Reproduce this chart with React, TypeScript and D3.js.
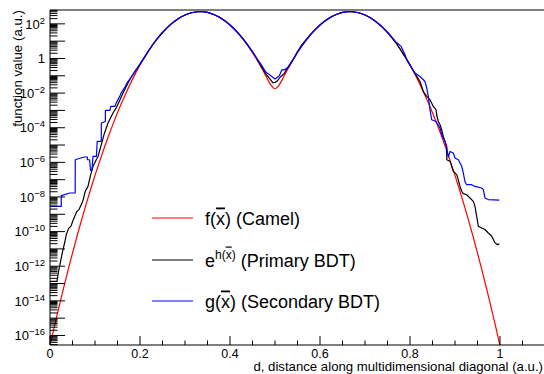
import React from 'react';
import * as d3 from 'd3';

// ---------------- data (log10 of function value) ----------------
const camelD = d3.range(0, 101).map((i) => i / 100);
const camelLog = [
  -16.6, -15.45, -14.35, -13.28, -12.24, -11.24, -10.27, -9.34, -8.44, -7.58,
  -6.75, -5.96, -5.2, -4.48, -3.79, -3.13, -2.51, -1.93, -1.38, -0.86,
  -0.38, 0.06, 0.47, 0.85, 1.19, 1.5, 1.77, 2.01, 2.21, 2.38,
  2.51, 2.61, 2.67, 2.7, 2.7, 2.66, 2.58, 2.47, 2.33, 2.15,
  1.93, 1.68, 1.4, 1.08, 0.73, 0.34, -0.08, -0.54, -1.03, -1.5,
  -1.75,
  -1.5, -1.03, -0.54, -0.08, 0.34, 0.73, 1.08, 1.4, 1.68, 1.93,
  2.15, 2.33, 2.47, 2.58, 2.66, 2.7, 2.7, 2.67, 2.61, 2.51,
  2.38, 2.21, 2.01, 1.77, 1.5, 1.19, 0.85, 0.47, 0.06, -0.38,
  -0.86, -1.38, -1.93, -2.51, -3.13, -3.79, -4.48, -5.2, -5.96, -6.75,
  -7.58, -8.44, -9.34, -10.27, -11.24, -12.24, -13.28, -14.35, -15.45, -16.6,
];

const primaryPts: [number, number][] = [
  [0, -12.87], [0.0156, -12.87], [0.0189, -12.31], [0.0222, -11.9], [0.0256, -11.44],
  [0.0289, -11.04], [0.0327, -10.63], [0.0362, -10.17], [0.0411, -9.83], [0.0467, -9.68],
  [0.0518, -9.31], [0.0593, -8.85], [0.0644, -8.73], [0.0696, -8.44], [0.0733, -8.21],
  [0.0784, -7.67], [0.0844, -7.39], [0.0904, -6.71], [0.0956, -6.23], [0.1029, -5.85],
  [0.1067, -5.66], [0.114, -4.98], [0.12, -4.4], [0.1289, -3.73], [0.14, -3.15],
  [0.1473, -2.85], [0.1556, -2.38], [0.1622, -2.0], [0.1733, -1.42],
  [0.18, -1.1], [0.19, -0.72], [0.2, -0.33], [0.21, 0.08], [0.22, 0.49], [0.23, 0.86],
  [0.24, 1.2], [0.25, 1.5], [0.26, 1.77], [0.27, 2.01], [0.28, 2.21], [0.29, 2.38],
  [0.3, 2.51], [0.31, 2.61], [0.32, 2.67], [0.33, 2.7], [0.34, 2.7], [0.35, 2.66],
  [0.36, 2.58], [0.37, 2.47], [0.38, 2.33], [0.39, 2.15], [0.4, 1.93], [0.41, 1.69],
  [0.42, 1.42], [0.43, 1.1], [0.44, 0.76], [0.45, 0.4], [0.46, -0.03], [0.47, -0.46],
  [0.48, -0.92], [0.49, -1.22], [0.495, -1.4], [0.5, -1.38], [0.505, -1.3], [0.51, -1.12],
  [0.52, -0.88], [0.53, -0.46], [0.54, -0.06], [0.55, 0.4], [0.56, 0.8], [0.57, 1.12],
  [0.58, 1.42], [0.59, 1.69], [0.6, 1.93], [0.61, 2.15], [0.62, 2.33], [0.63, 2.47],
  [0.64, 2.58], [0.65, 2.66], [0.66, 2.7], [0.67, 2.7], [0.68, 2.67], [0.69, 2.61],
  [0.7, 2.51], [0.71, 2.38], [0.72, 2.21], [0.73, 2.01], [0.74, 1.77], [0.75, 1.5],
  [0.76, 1.19], [0.77, 0.86], [0.78, 0.47], [0.79, 0.06], [0.8, -0.36], [0.81, -0.82],
  [0.8222, -1.33], [0.8296, -1.91], [0.8371, -2.19], [0.8444, -2.38], [0.8518, -2.77],
  [0.8578, -2.96], [0.8593, -3.25], [0.8629, -3.64], [0.8667, -3.83], [0.8704, -4.12],
  [0.874, -4.5], [0.8778, -4.79], [0.8816, -5.08], [0.8817, -5.85], [0.8889, -5.94],
  [0.8927, -6.23], [0.8962, -6.52], [0.9038, -6.71], [0.9073, -7.0], [0.9111, -7.39],
  [0.9149, -7.67], [0.9184, -7.81], [0.926, -7.87], [0.9333, -8.06], [0.9407, -8.25],
  [0.9444, -8.54], [0.9482, -9.12], [0.9518, -9.69], [0.9593, -9.79], [0.9667, -9.88],
  [0.974, -10.08], [0.9778, -10.17], [0.9816, -10.27], [0.9852, -10.46], [0.9889, -10.65],
  [0.994, -10.75], [0.9984, -10.71],
];

const secondaryPts: [number, number][] = [
  [0, -8.54], [0.025, -8.54], [0.0251, -7.92], [0.044, -7.77], [0.056, -7.77],
  [0.0561, -5.85], [0.0756, -5.69], [0.083, -5.69], [0.0831, -5.85], [0.088, -5.85],
  [0.09, -6.46], [0.093, -6.46], [0.0956, -5.66], [0.103, -5.66], [0.105, -4.79],
  [0.114, -4.79], [0.1141, -3.73], [0.123, -3.64], [0.1231, -3.0], [0.133, -3.0],
  [0.135, -2.77], [0.144, -2.77], [0.147, -2.58], [0.155, -2.19], [0.158, -2.0],
  [0.167, -1.62], [0.173, -1.33],
  [0.18, -1.1], [0.19, -0.7], [0.2, -0.33], [0.21, 0.08], [0.22, 0.48], [0.23, 0.86],
  [0.24, 1.2], [0.25, 1.5], [0.26, 1.77], [0.27, 2.01], [0.28, 2.21], [0.29, 2.38],
  [0.3, 2.51], [0.31, 2.61], [0.32, 2.67], [0.33, 2.7], [0.34, 2.7], [0.35, 2.66],
  [0.36, 2.58], [0.37, 2.47], [0.38, 2.33], [0.39, 2.15], [0.4, 1.93], [0.41, 1.69],
  [0.42, 1.41], [0.43, 1.1], [0.44, 0.76], [0.45, 0.38], [0.46, 0.0], [0.47, -0.38],
  [0.48, -0.8], [0.49, -0.98], [0.5, -1.18], [0.51, -0.98], [0.515, -0.66], [0.52, -0.66],
  [0.53, -0.5], [0.54, -0.08], [0.55, 0.36], [0.56, 0.74], [0.57, 1.09], [0.58, 1.41],
  [0.59, 1.69], [0.6, 1.93], [0.61, 2.15], [0.62, 2.33], [0.63, 2.47], [0.64, 2.58],
  [0.65, 2.66], [0.66, 2.7], [0.67, 2.7], [0.68, 2.67], [0.69, 2.61], [0.7, 2.51],
  [0.71, 2.38], [0.72, 2.21], [0.73, 2.01], [0.74, 1.78], [0.75, 1.52], [0.76, 1.22],
  [0.77, 0.92], [0.78, 0.7], [0.79, 0.15], [0.7927, -0.08], [0.8038, -0.56],
  [0.8111, -0.84], [0.8222, -1.04], [0.8296, -1.23], [0.8333, -1.33], [0.8371, -1.69],
  [0.8407, -2.19], [0.8444, -2.96], [0.8482, -3.54], [0.8578, -3.64], [0.8622, -3.83],
  [0.8667, -4.02], [0.8704, -4.4], [0.8778, -4.79], [0.8816, -5.17], [0.8851, -5.7],
  [0.8889, -5.37], [0.8962, -5.46], [0.9, -5.75], [0.9073, -5.85], [0.9111, -6.04],
  [0.9149, -6.23], [0.9184, -6.61], [0.9222, -7.12], [0.926, -7.29], [0.9371, -7.29],
  [0.9444, -7.39], [0.9593, -7.48], [0.9629, -7.58], [0.9667, -8.06], [0.974, -8.15],
  [0.9984, -8.18],
];

const xTicks = [0, 0.2, 0.4, 0.6, 0.8, 1];
const xTickLabels = ['0', '0.2', '0.4', '0.6', '0.8', '1'];
const yLabelExps = [2, 0, -2, -4, -6, -8, -10, -12, -14, -16];

const FONT = '"Liberation Sans", Arial, Helvetica, sans-serif';

export default function App() {
  const L = 50, R = 545, T = 10, B = 345;
  const x = d3.scaleLinear().domain([0, 1.1]).range([L, R]);
  const y = d3.scaleLog().domain([Math.pow(10, -16.55), Math.pow(10, 2.8)]).range([B, T]);

  const line = d3
    .line<[number, number]>()
    .x((p) => x(p[0]))
    .y((p) => y(Math.pow(10, p[1])));
  const smooth = d3
    .line<[number, number]>()
    .x((p) => x(p[0]))
    .y((p) => y(Math.pow(10, p[1])))
    .curve(d3.curveMonotoneX);

  const camelPts: [number, number][] = camelLog.map((v, i) => [camelD[i], v]);

  // log ticks
  const decades = d3.range(-16, 3);
  const minors: number[] = [];
  for (let n = -17; n <= 2; n++) {
    for (let k = 2; k <= 9; k++) {
      const v = k * Math.pow(10, n);
      if (v > Math.pow(10, -16.55) && v < Math.pow(10, 2.8)) minors.push(v);
    }
  }
  const xMinor = d3.range(0, 23).map((i) => i * 0.05).filter((v) => v <= 1.1 + 1e-9);

  const legend = [
    { color: '#ff0000', y: 218, kind: 'f' },
    { color: '#000000', y: 260, kind: 'e' },
    { color: '#0000ff', y: 301, kind: 'g' },
  ];

  return (
    <svg
      width={544}
      height={374}
      style={{ position: 'absolute', left: 0, top: 0, background: '#fff' }}
      fontFamily={FONT}
    >
      <rect x={0} y={0} width={544} height={374} fill="#fff" />
      <defs>
        <clipPath id="plotclip">
          <rect x={L} y={T} width={R - L} height={B - T} />
        </clipPath>
      </defs>

      {/* curves */}
      <g clipPath="url(#plotclip)" fill="none" strokeWidth={1.2} strokeLinejoin="round">
        <path d={smooth(camelPts) || ''} stroke="#ff0000" />
        <path d={line(primaryPts) || ''} stroke="#000000" />
        <path d={line(secondaryPts) || ''} stroke="#0000ff" />
      </g>

      {/* frame */}
      <g stroke="#000" strokeWidth={1} fill="none">
        <line x1={L} y1={T} x2={R} y2={T} />
        <line x1={L} y1={T} x2={L} y2={B} />
        <line x1={L} y1={B} x2={R} y2={B} />
        <line x1={R} y1={T} x2={R} y2={B} />
      </g>

      {/* y ticks */}
      <g stroke="#000" strokeWidth={1}>
        {decades.map((n) => (
          <line key={'yd' + n} x1={L} x2={L + 15} y1={y(Math.pow(10, n))} y2={y(Math.pow(10, n))} />
        ))}
        {minors.map((v, i) => (
          <line key={'ym' + i} x1={L} x2={L + 7.5} y1={y(v)} y2={y(v)} />
        ))}
      </g>
      {/* x ticks */}
      <g stroke="#000" strokeWidth={1}>
        {xMinor.map((v, i) => {
          const major = Math.abs(v / 0.2 - Math.round(v / 0.2)) < 1e-6;
          return <line key={'xm' + i} x1={x(v)} x2={x(v)} y1={B} y2={B - (major ? 9 : 4.5)} />;
        })}
      </g>

      {/* y tick labels */}
      <g fontSize={13} fill="#000">
        {yLabelExps.map((n) => (
          <text key={'yl' + n} x={45} y={y(Math.pow(10, n))} dy="0.36em" textAnchor="end">
            {n === 0 ? (
              '1'
            ) : (
              <>
                10
                <tspan fontSize={9.5} dy={-5}>
                  {n < 0 ? '\u2212' + Math.abs(n) : String(n)}
                </tspan>
              </>
            )}
          </text>
        ))}
      </g>

      {/* x tick labels */}
      <g fontSize={12.5} fill="#000" textAnchor="middle">
        {xTicks.map((v, i) => (
          <text key={'xl' + i} x={x(v)} y={357.5}>
            {xTickLabels[i]}
          </text>
        ))}
      </g>

      {/* axis titles */}
      <text x={543} y={371} fontSize={13.2} textAnchor="end" fill="#000">
        d, distance along multidimensional diagonal (a.u.)
      </text>
      <text transform="translate(21.5,10) rotate(-90)" fontSize={13.3} textAnchor="end" fill="#000">
        function value (a.u.)
      </text>

      {/* legend */}
      {legend.map((item) => (
        <g key={item.kind}>
          <line x1={152} x2={193} y1={item.y} y2={item.y} stroke={item.color} strokeWidth={1.2} />
          <text x={205} y={item.y + 6.5} fontSize={18} fill="#000">
            {item.kind === 'f' && (
              <>
                <tspan>f(</tspan>
                <tspan style={{ textDecoration: 'overline' }}>x</tspan>
                <tspan>) (Camel)</tspan>
              </>
            )}
            {item.kind === 'e' && (
              <>
                <tspan>e</tspan>
                <tspan fontSize={12} dy={-8}>h(</tspan>
                <tspan fontSize={12} style={{ textDecoration: 'overline' }}>x</tspan>
                <tspan fontSize={12}>)</tspan>
                <tspan dy={8}> (Primary BDT)</tspan>
              </>
            )}
            {item.kind === 'g' && (
              <>
                <tspan>g(</tspan>
                <tspan style={{ textDecoration: 'overline' }}>x</tspan>
                <tspan>) (Secondary BDT)</tspan>
              </>
            )}
          </text>
        </g>
      ))}
    </svg>
  );
}
